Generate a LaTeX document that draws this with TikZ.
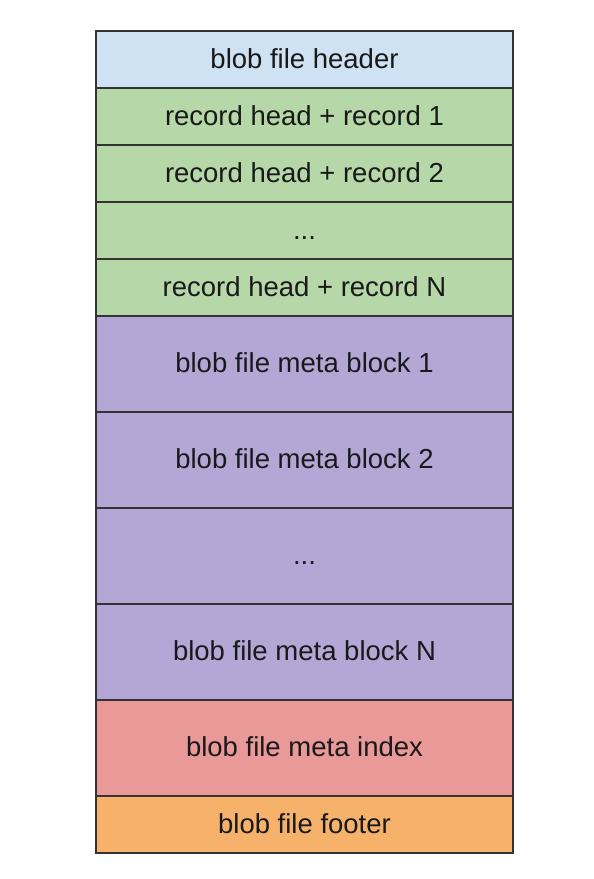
\documentclass[tikz,border=0pt]{standalone}
\usepackage{fontspec}
\setmainfont{Liberation Sans}
\definecolor{hdrblue}{HTML}{CFE2F3}
\definecolor{recgreen}{HTML}{B6D7A8}
\definecolor{metapurple}{HTML}{B4A7D6}
\definecolor{idxred}{HTML}{EA9999}
\definecolor{ftrorange}{HTML}{F6B26B}
\tikzset{
  layer/.style={draw=black!80, line width=1.2pt, minimum width=417pt,
    inner sep=0pt, text height=19.8pt, text depth=2.8pt,
    font=\fontsize{27.5}{31}\selectfont, text=black!90},
}
\begin{document}
\begin{tikzpicture}[x=1pt,y=-1pt]
\useasboundingbox (0,0) rectangle (594,879);
% record part
\node[layer, fill=hdrblue, minimum height=57pt] (header) at (304.5,59.5) {blob file header};
\node[layer, fill=recgreen, minimum height=57pt] (rec1) at (304.5,116.5) {record head + record 1};
\node[layer, fill=recgreen, minimum height=57pt] (rec2) at (304.5,173.5) {record head + record 2};
\node[layer, fill=recgreen, minimum height=57pt] (recdots) at (304.5,230.5) {...};
\node[layer, fill=recgreen, minimum height=57pt] (recN) at (304.5,287.5) {record head + record N};
% meta part
\node[layer, fill=metapurple, minimum height=96pt] (meta1) at (304.5,364) {blob file meta block 1};
\node[layer, fill=metapurple, minimum height=96pt] (meta2) at (304.5,460) {blob file meta block 2};
\node[layer, fill=metapurple, minimum height=96pt] (metadots) at (304.5,556) {...};
\node[layer, fill=metapurple, minimum height=96pt] (metaN) at (304.5,652) {blob file meta block N};
\node[layer, fill=idxred, minimum height=96pt] (index) at (304.5,748) {blob file meta index};
\node[layer, fill=ftrorange, minimum height=57pt] (footer) at (304.5,824.5) {blob file footer};
\end{tikzpicture}
\end{document}
